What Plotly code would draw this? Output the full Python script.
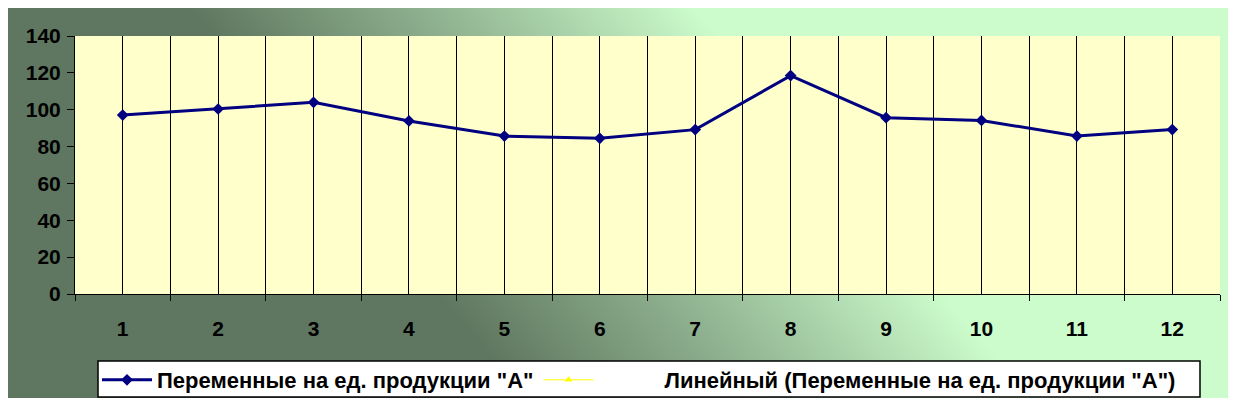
import base64
import plotly.graph_objects as go

# ---- data ----
categories = [1, 2, 3, 4, 5, 6, 7, 8, 9, 10, 11, 12]
tick_labels = ["1", "2", "3", "4", "5", "6", "7", "8", "9", "10", "11", "12"]
values = [97.1, 100.4, 104.0, 93.9, 85.7, 84.5, 89.2, 118.5, 95.7, 94.2, 85.7, 89.2]
series_name = 'Переменные на ед. продукции "А"'
trend_name = 'Линейный (Переменные на ед. продукции "А")'
y_ticks = [0, 20, 40, 60, 80, 100, 120, 140]

# ---- geometry (pixels, page is offset by 8px body margin) ----
OFF = 8
W, H = 1236 - OFF, 404 - OFF
L, R, T, B = 75 - OFF, 1220 - OFF, 36 - OFF, 294 - OFF
pw, ph = R - L, B - T


def px_x(p):
    return (p - OFF - L) / pw


def px_y(p):
    return (B - (p - OFF)) / ph


FONT = "Liberation Sans, Arial, sans-serif"

svg = (
    '<svg xmlns="http://www.w3.org/2000/svg" width="1224" height="392" '
    'viewBox="0 0 1224 392" preserveAspectRatio="none">'
    '<defs><linearGradient id="g" gradientUnits="userSpaceOnUse" '
    'x1="350" y1="196" x2="640" y2="-55">'
    '<stop offset="0" stop-color="#5f7760"/>'
    '<stop offset="0.5" stop-color="#93b693"/>'
    '<stop offset="1" stop-color="#ccfccc"/>'
    '</linearGradient></defs>'
    '<rect x="0" y="0" width="1224" height="392" fill="url(#g)"/></svg>'
)
src = "data:image/svg+xml;base64," + base64.b64encode(svg.encode()).decode()

fig = go.Figure()

fig.add_trace(go.Scatter(
    x=categories, y=values, mode="lines+markers", name=series_name,
    line=dict(color="#000080", width=3),
    marker=dict(symbol="diamond", size=9, color="#000080"),
))
fig.add_trace(go.Scatter(
    x=[None], y=[None], mode="lines+markers",
    name="\u2003\u2003\u2003" + trend_name,
    line=dict(color="#ffff00", width=1),
    marker=dict(symbol="triangle-up", size=7, color="#ffff00"),
))

fig.add_layout_image(dict(
    source=src, xref="paper", yref="paper",
    x=px_x(8), y=px_y(6), sizex=px_x(1230) - px_x(8), sizey=px_y(6) - px_y(398),
    xanchor="left", yanchor="top", sizing="stretch", layer="below",
))

fig.add_shape(type="rect", xref="paper", yref="paper", x0=0, x1=1, y0=0, y1=1,
              fillcolor="#ffffcc", line=dict(width=0), layer="below")
fig.add_shape(type="rect", xref="paper", yref="paper",
              x0=px_x(98), x1=px_x(1200), y0=px_y(397), y1=px_y(361),
              fillcolor="white", line=dict(color="black", width=1.5), layer="below")

fig.update_layout(
    width=W, height=H,
    margin=dict(l=L, r=W - R, t=T, b=H - B, autoexpand=False),
    paper_bgcolor="white", plot_bgcolor="rgba(0,0,0,0)",
    font=dict(family=FONT, size=21, color="black"),
    showlegend=True,
    legend=dict(
        orientation="h", x=px_x(97), y=px_y(380), xanchor="left", yanchor="middle",
        bgcolor="rgba(0,0,0,0)", borderwidth=0, itemwidth=50,
        font=dict(family=FONT, size=22, color="black", weight="bold"),
    ),
    xaxis=dict(
        range=[0.5, 12.5], tickmode="array", tickvals=categories, ticktext=tick_labels,
        showgrid=True, gridcolor="black", gridwidth=1,
        ticks="", ticklabelstandoff=16,
        showline=True, linecolor="black", linewidth=1,
        tickfont=dict(family=FONT, size=21, color="black", weight="bold"),
        minor=dict(tick0=0.5, dtick=1, showgrid=True, gridcolor="black", gridwidth=1,
                   ticks="outside", ticklen=6, tickcolor="black"),
        zeroline=False, fixedrange=True,
    ),
    yaxis=dict(
        range=[0, 140], tickmode="array", tickvals=y_ticks,
        showgrid=False, zeroline=False,
        ticks="outside", ticklen=7, tickcolor="black",
        showline=True, linecolor="black", linewidth=1,
        ticksuffix="\u00a0", ticklabelstandoff=2,
        tickfont=dict(family=FONT, size=21, color="black", weight="bold"),
        fixedrange=True,
    ),
)

fig.write_html("out.html")
